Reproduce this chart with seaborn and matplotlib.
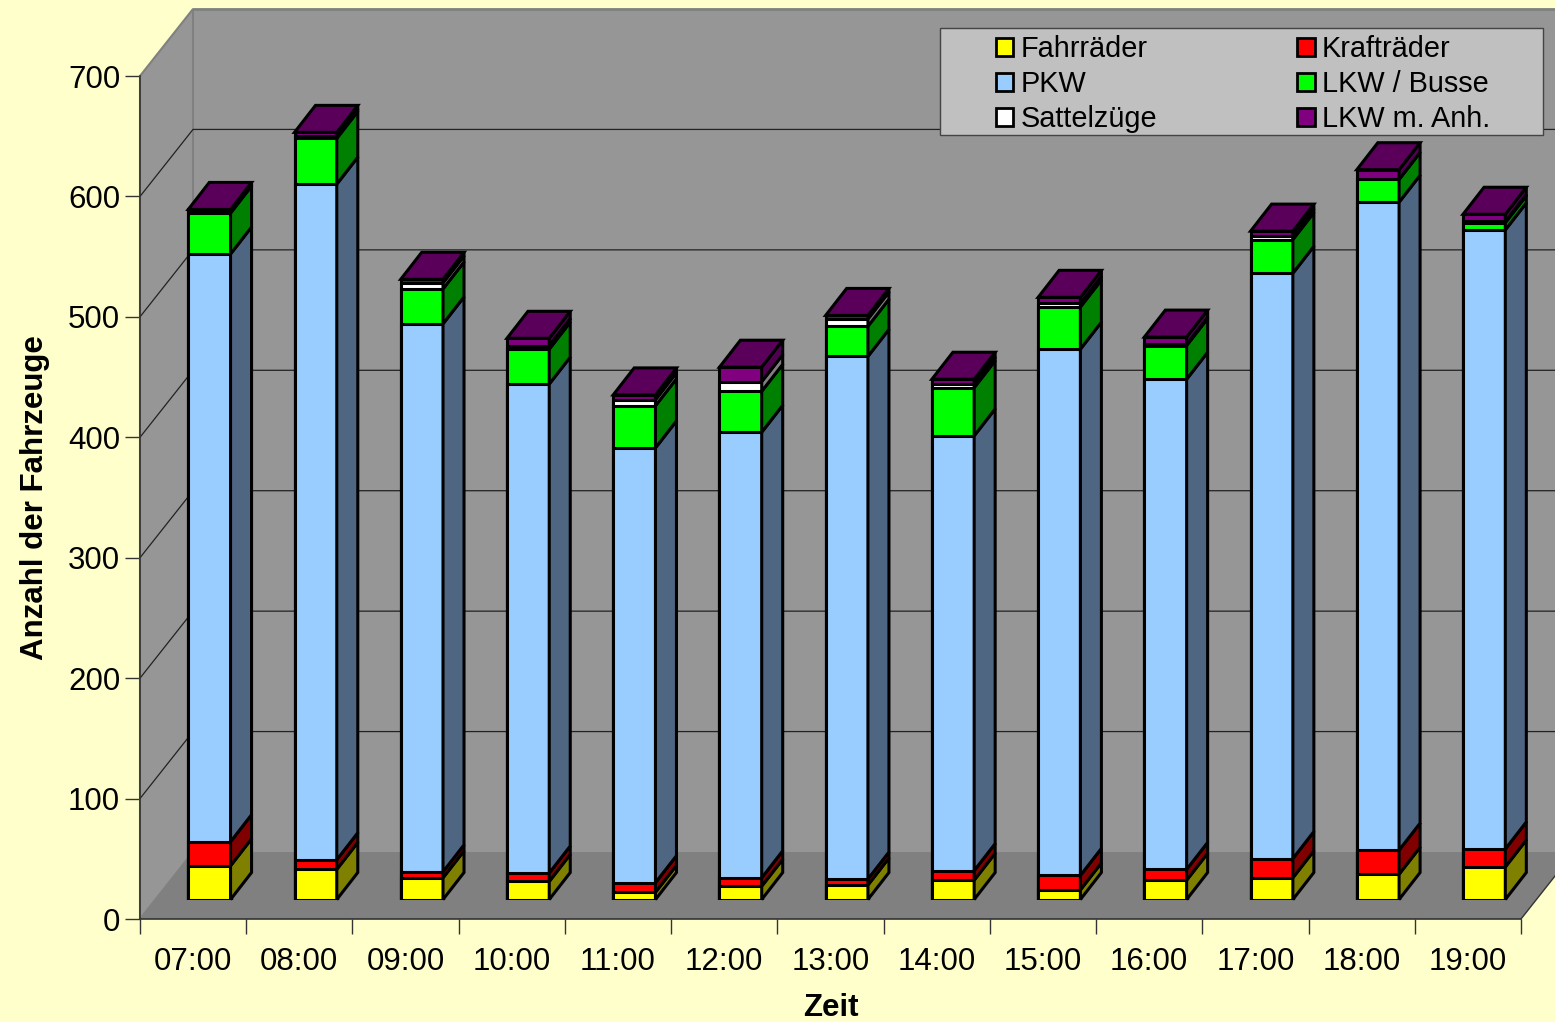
import numpy as np
import pandas as pd
import matplotlib
matplotlib.use('Agg')
import matplotlib.pyplot as plt
from matplotlib.patches import Patch, Rectangle
import seaborn as sns

# ── data ─────────────────────────────────────────────────
zeit = ['07:00', '08:00', '09:00', '10:00', '11:00', '12:00', '13:00',
        '14:00', '15:00', '16:00', '17:00', '18:00', '19:00']
fahrraeder = [28, 25, 18, 15, 6, 11, 12, 16, 8, 16, 18, 21, 27]
kraftraeder = [20, 8, 5, 7, 8, 7, 5, 8, 12, 9, 16, 20, 15]
pkw = [488, 561, 455, 406, 361, 370, 434, 361, 437, 407, 486, 538, 514]
lkw_busse = [34, 38, 29, 29, 35, 34, 25, 40, 35, 28, 28, 19, 6]
sattelzuege = [1, 2, 5, 3, 5, 8, 6, 3, 3, 1, 3, 0, 1]
lkw_anh = [2, 3, 3, 6, 4, 12, 3, 4, 5, 6, 4, 8, 6]

names = ['Fahrräder', 'Krafträder', 'PKW', 'LKW / Busse', 'Sattelzüge', 'LKW m. Anh.']
values = [fahrraeder, kraftraeder, pkw, lkw_busse, sattelzuege, lkw_anh]
front_colors = ['#FFFF00', '#FF0000', '#99CCFF', '#00FF00', '#FFFFFF', '#800080']
side_colors = ['#808000', '#800000', '#4F6682', '#008000', '#808080', '#500050']
top_color = '#5A005A'
yticks = [0, 100, 200, 300, 400, 500, 600, 700]

# ── layout in pixels ─────────────────────────────────────
W, H = 1555, 1022
LEFT, RIGHT, BOTTOM, TOP = 140, 1521, 919, 76
BG = '#FFFFCC'
PX_X = (RIGHT - LEFT) / len(zeit)     # px per category
PX_Y = (BOTTOM - TOP) / 700           # px per vehicle
DEPTH_X, DEPTH_Y = 53 / PX_X, 67 / PX_Y        # room depth
BAR_DX, BAR_DY = 21 / PX_X, 27 / PX_Y          # bar depth
SHIFT_X, SHIFT_Y = 16.3, 19.5                  # bars stand inside the room
BAR_W = 0.398
EDGE = 2.2

sns.set_theme(style='white')
plt.rcParams['font.family'] = ['Liberation Sans', 'DejaVu Sans']

fig = plt.figure(figsize=(W / 100, H / 100), dpi=100, facecolor=BG)
ax = fig.add_axes([LEFT / W, 1 - BOTTOM / H, (RIGHT - LEFT) / W, (BOTTOM - TOP) / H])
ax.set_facecolor('none')
ax_bars = fig.add_axes([(LEFT + SHIFT_X) / W, 1 - (BOTTOM - SHIFT_Y) / H,
                        (RIGHT - LEFT) / W, (BOTTOM - TOP) / H])
ax_bars.set_facecolor('none')

# ── room: walls, floor, grid ─────────────────────────────
x0, x1 = -0.5, len(zeit) - 0.5
ytop = yticks[-1]
ax.fill([x0 + DEPTH_X, x1 + DEPTH_X, x1 + DEPTH_X, x0 + DEPTH_X],
        [DEPTH_Y, DEPTH_Y, ytop + DEPTH_Y, ytop + DEPTH_Y],
        facecolor='#969696', edgecolor='none', clip_on=False, zorder=1)
ax.fill([x0, x0 + DEPTH_X, x0 + DEPTH_X, x0],
        [0, DEPTH_Y, ytop + DEPTH_Y, ytop],
        facecolor='#969696', edgecolor='#808080', lw=1.5, clip_on=False, zorder=1)
ax.fill([x0, x1, x1 + DEPTH_X, x0 + DEPTH_X],
        [0, 0, DEPTH_Y, DEPTH_Y],
        facecolor='#808080', edgecolor='none', clip_on=False, zorder=1)
ax.plot([x1, x1 + DEPTH_X], [0, DEPTH_Y], color='#333333', lw=1, clip_on=False, zorder=2)
ax.plot([x0 + DEPTH_X, x1 + DEPTH_X], [ytop + DEPTH_Y] * 2, color='#808080', lw=2, clip_on=False, zorder=2)

for t in yticks[1:-1]:
    ax.plot([x0, x0 + DEPTH_X, x1 + DEPTH_X], [t, t + DEPTH_Y, t + DEPTH_Y],
            color='#222222', lw=0.9, clip_on=False, zorder=2)

# ── stacked bars, tallest layer first ────────────────────
cum = np.cumsum(np.array(values), axis=0)
for k in range(len(names) - 1, -1, -1):
    frame = pd.DataFrame({'Zeit': zeit, 'Anzahl': cum[k]})
    sns.barplot(data=frame, x='Zeit', y='Anzahl', color=front_colors[k], saturation=1,
                width=BAR_W, edgecolor='black', linewidth=EDGE, errorbar=None,
                ax=ax_bars, zorder=3)

# side and top faces
for i in range(len(zeit)):
    xr = i + BAR_W / 2
    xl = i - BAR_W / 2
    low = 0
    for k in range(len(names)):
        high = cum[k][i]
        ax_bars.fill([xr, xr + BAR_DX, xr + BAR_DX, xr],
                     [low, low + BAR_DY, high + BAR_DY, high],
                     facecolor=side_colors[k], edgecolor='black', lw=EDGE,
                     joinstyle='miter', clip_on=False, zorder=3)
        low = high
    ax_bars.fill([xl, xr, xr + BAR_DX, xl + BAR_DX],
                 [low, low, low + BAR_DY, low + BAR_DY],
                 facecolor=top_color, edgecolor='black', lw=EDGE,
                 joinstyle='miter', clip_on=False, zorder=3)

ax_bars.set_xlim(x0, x1)
ax_bars.set_ylim(0, ytop)
ax_bars.axis('off')

# ── axes ─────────────────────────────────────────────────
ax.set_xlim(x0, x1)
ax.set_ylim(0, ytop)
ax.set_yticks(yticks)
ax.set_xticks(range(len(zeit)))
ax.set_xticklabels(zeit)
ax.set_xticks(np.arange(len(zeit) + 1) - 0.5, minor=True)
ax.tick_params(axis='x', which='major', length=0, pad=20.5, labelsize=22.5, colors='black')
ax.tick_params(axis='x', which='minor', length=10.8, width=1, color='#333333', bottom=True)
ax.tick_params(axis='y', length=10.8, width=1, color='#333333', pad=3.5, labelsize=22.5,
               labelcolor='black', left=True)
for side in ['top', 'right']:
    ax.spines[side].set_visible(False)
for side in ['left', 'bottom']:
    ax.spines[side].set_color('#333333')
    ax.spines[side].set_linewidth(1.2)
    ax.spines[side].set_zorder(2.5)
ax.set_xlabel('Zeit', fontsize=22.5, fontweight='bold', labelpad=11.5, color='black')
ax.set_ylabel('Anzahl der Fahrzeuge', fontsize=22.5, fontweight='bold', labelpad=13, color='black')

# ── legend ───────────────────────────────────────────────
fig.add_artist(Rectangle((940 / W, 1 - 135 / H), 603 / W, 107 / H, transform=fig.transFigure,
                         facecolor='#C0C0C0', edgecolor='#444444', lw=1, zorder=4))
order = [0, 2, 4, 1, 3, 5]
handles = [Patch(facecolor=front_colors[k], edgecolor='black', lw=2, label=names[k]) for k in order]
fig.legend(handles=handles, ncol=2, frameon=False, loc='upper left',
           bbox_to_anchor=(996 / W, 1 - 35 / H), bbox_transform=fig.transFigure,
           fontsize=20.8, borderpad=0, borderaxespad=0, handlelength=0.6, handleheight=0.6,
           handletextpad=0.25, columnspacing=4.85, labelspacing=0.24, labelcolor='black')

plt.savefig('out.png', dpi=100, facecolor=BG)
